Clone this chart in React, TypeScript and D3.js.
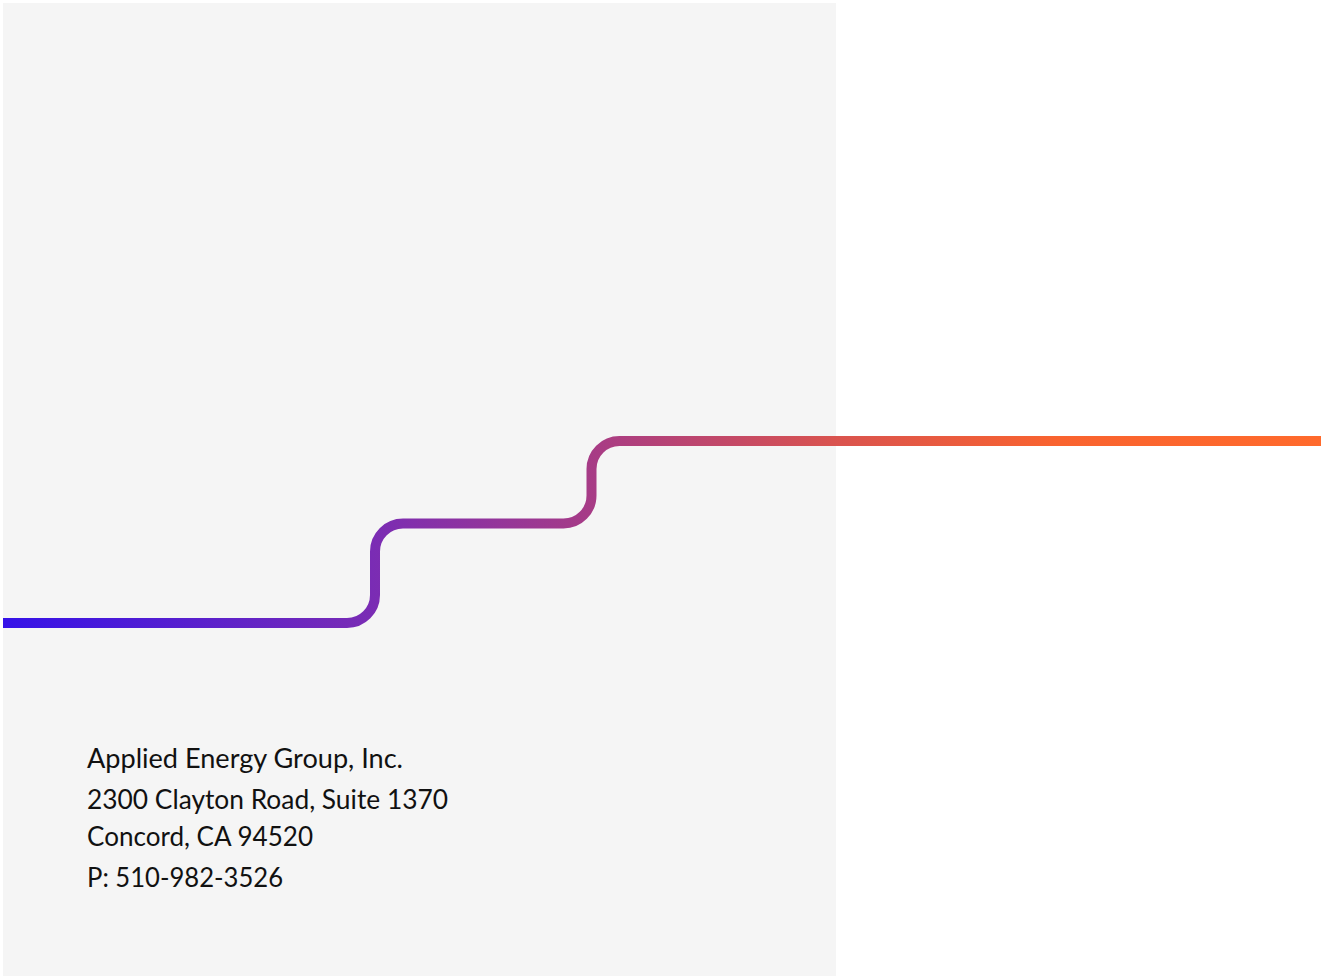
import React from "react";
import * as d3 from "d3";

const WIDTH = 1323;
const HEIGHT = 976;

// step line: horizontal extent, break points and level of each run (px from baseline run)
const lineExtent = [3, 1321];
const stepBreaks = [375, 591.5];
const stepLevels = [0, 99.5, 182];
const CORNER = 28;

const gradientStops = [
  { offset: 0, color: "#3512e8" },
  { offset: 0.28, color: "#7a2cb4" },
  { offset: 0.45, color: "#a83c85" },
  { offset: 0.63, color: "#d9534f" },
  { offset: 0.8, color: "#f9632f" },
  { offset: 1, color: "#ff6a2c" },
];

const addressLines = [
  "Applied Energy Group, Inc.",
  "2300 Clayton Road, Suite 1370",
  "Concord, CA 94520",
  "P: 510-982-3526",
];
const addressBaselines = [768, 809, 846, 887];
const addressWidths = [316, 361, 226, 196];

const App = () => {
  const x = d3.scaleLinear().domain([0, WIDTH]).range([0, WIDTH]);
  const y = d3.scaleLinear().domain([0, 182]).range([623, 441]);

  // rounded step path
  const p = d3.path();
  p.moveTo(x(lineExtent[0]), y(stepLevels[0]));
  stepBreaks.forEach((bx, i) => {
    const y0 = y(stepLevels[i]);
    const y1 = y(stepLevels[i + 1]);
    const cx = x(bx);
    p.lineTo(cx - CORNER, y0);
    p.arcTo(cx, y0, cx, y0 - CORNER, CORNER);
    p.lineTo(cx, y1 + CORNER);
    p.arcTo(cx, y1, cx + CORNER, y1, CORNER);
  });
  p.lineTo(x(lineExtent[1]), y(stepLevels[stepLevels.length - 1]));

  return (
    <svg
      width={WIDTH}
      height={HEIGHT}
      style={{ position: "fixed", left: 0, top: 0, background: "#ffffff" }}
    >
      <defs>
        <linearGradient
          id="stepGrad"
          gradientUnits="userSpaceOnUse"
          x1={x(lineExtent[0])}
          x2={x(lineExtent[1])}
          y1={0}
          y2={0}
        >
          {gradientStops.map((s) => (
            <stop key={s.offset} offset={s.offset} stopColor={s.color} />
          ))}
        </linearGradient>
      </defs>
      <rect x={3} y={3} width={833} height={HEIGHT - 3} fill="#f5f5f5" />
      <path
        d={p.toString()}
        fill="none"
        stroke="url(#stepGrad)"
        strokeWidth={10}
        strokeLinecap="butt"
      />
      <g fontFamily="Lato, 'Noto Sans', sans-serif" fontSize={27} fill="#111111">
        {addressLines.map((t, i) => (
          <text
            key={t}
            x={87}
            y={addressBaselines[i]}
            textLength={addressWidths[i]}
            lengthAdjust="spacingAndGlyphs"
          >
            {t}
          </text>
        ))}
      </g>
    </svg>
  );
};

export default App;
